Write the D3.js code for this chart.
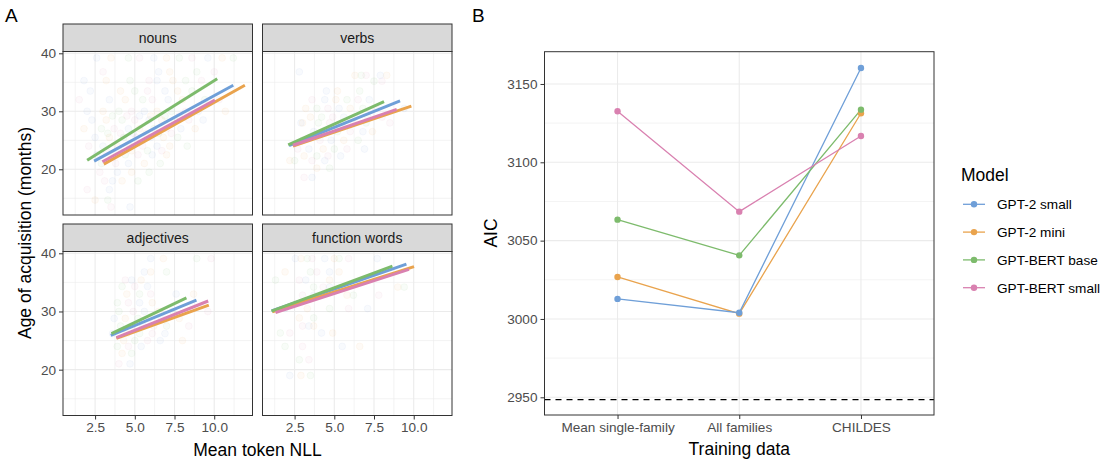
<!DOCTYPE html>
<html>
<head>
<meta charset="utf-8">
<script src="https://cdn.jsdelivr.net/npm/d3@7"></script>
<style>
  body { margin: 0; background: #fff; }
  svg text { font-family: "Liberation Sans", Arial, sans-serif; }
</style>
</head>
<body>
<svg id="chart" width="1112" height="468"></svg>
<script>
/* models and colours */
const models = ['GPT-2 small', 'GPT-2 mini', 'GPT-BERT base', 'GPT-BERT small']
const modelColors = ['#6f9fd8', '#e9a34d', '#7dbb6c', '#d981b0']

/* panel A facets */
const facets = ['nouns', 'verbs', 'adjectives', 'function words']
const nllTicks = [2.5, 5.0, 7.5, 10.0]
const aoaTicks = [20, 30, 40]

/* word points: [aoa, [nll, ...]] rows */
const nounPoints = [
  [39.2, [2.6, 3.5, 4.6, 5.3, 6.2, 7.0, 7.8, 8.6, 9.6, 10.5, 11.2]],
  [36.8, [3.0, 6.5, 7.2, 8.9, 10.0]],
  [35.3, [1.8, 3.2, 4.7, 5.9, 6.4, 7.4, 8.2, 9.2]],
  [33.5, [2.2, 4.1, 5.0, 5.8, 6.9, 7.7, 8.6]],
  [32.0, [1.5, 3.4, 4.4, 5.5, 6.1, 7.1, 8.0, 9.4, 10.3]],
  [30.0, [2.0, 3.0, 4.0, 4.8, 5.6, 6.4, 7.3, 8.2, 9.0, 10.7]],
  [29.2, [3.6, 4.5, 5.3, 6.0, 6.9, 7.8]],
  [28.5, [2.3, 3.2, 4.2, 5.0, 5.9, 6.7, 7.5, 8.4, 9.3]],
  [27.0, [1.8, 2.9, 3.7, 4.6, 5.3, 6.2, 7.0, 7.9, 8.8]],
  [26.2, [3.3, 4.1, 4.9, 5.7, 6.5, 7.3]],
  [25.5, [2.5, 3.4, 4.3, 5.1, 6.0, 6.8, 7.7]],
  [24.0, [2.1, 3.0, 3.9, 4.7, 5.5, 6.4, 7.2, 8.3]],
  [23.2, [3.2, 4.0, 4.8, 5.8, 6.7]],
  [22.5, [2.6, 3.5, 4.4, 5.2, 6.1, 7.0]],
  [21.0, [2.9, 3.8, 4.6, 5.6, 6.6]],
  [19.5, [2.8, 3.9, 4.8, 5.9]],
  [18.0, [3.1, 3.6, 4.2, 5.2]],
  [16.5, [2.0, 3.4]],
  [14.7, [2.5, 3.3]],
  [13.5, [3.5, 4.7]]
]
const verbPoints = [
  [36.8, [2.8]],
  [36.2, [6.3, 6.7, 7.0, 7.9, 8.3]],
  [35.2, [7.5, 8.0]],
  [33.5, [4.5, 5.2, 6.6]],
  [32.0, [3.6, 4.4, 5.1, 5.8, 6.5, 7.2]],
  [30.5, [3.2, 3.9, 4.6, 5.3, 6.0, 6.8, 7.6, 9.4]],
  [29.0, [3.5, 4.2, 4.9, 5.6, 6.3, 7.1, 8.0]],
  [28.0, [2.9, 3.0, 4.0, 4.7, 5.5, 6.2, 7.0, 8.5]],
  [26.5, [3.7, 4.5, 5.2, 6.0, 6.8, 7.4]],
  [25.0, [3.0, 4.1, 4.8, 5.6, 6.5]],
  [23.5, [2.7, 3.4, 4.3, 5.0, 5.8, 6.9]],
  [22.3, [3.1, 3.9, 4.6, 5.4]],
  [21.5, [2.2, 2.5, 3.6, 4.4]],
  [20.2, [3.9, 4.7]],
  [18.6, [3.1, 3.6]]
]
const adjPoints = [
  [39.1, [6.0, 6.8, 8.9, 9.8]],
  [36.8, [5.6, 6.0, 7.0]],
  [35.4, [4.4, 4.8, 5.4]],
  [34.3, [4.2, 5.0, 5.8]],
  [33.0, [4.5, 5.3, 6.0, 7.6, 8.7]],
  [31.5, [3.9, 4.6, 5.3, 6.1]],
  [30.0, [4.0, 4.9, 5.6, 6.5, 7.4, 9.6]],
  [28.8, [3.7, 4.4, 5.2, 5.9, 6.7, 7.8]],
  [27.5, [4.1, 4.8, 5.5, 6.2, 7.0, 8.4]],
  [26.2, [3.6, 4.5, 5.3, 6.1, 6.9]],
  [25.0, [4.3, 5.0, 5.8, 6.6, 8.0]],
  [24.0, [3.9, 4.6, 5.4]],
  [22.8, [4.2, 4.8]],
  [21.0, [4.0, 4.7]]
]
const funcPoints = [
  [39.1, [2.55, 2.9, 3.3, 3.6, 4.4, 5.0, 5.3, 5.9, 7.7]],
  [36.8, [1.9, 3.5, 3.9, 4.7, 5.3]],
  [35.4, [1.3, 2.8, 3.2, 4.7]],
  [34.2, [3.7, 4.3, 4.7, 9.0, 9.4]],
  [32.8, [3.0, 3.7, 5.8, 6.2, 7.8]],
  [30.5, [1.9, 3.3, 4.7, 5.9, 7.1]],
  [28.9, [2.8, 3.7]],
  [27.5, [3.0, 3.4, 3.7]],
  [26.3, [1.6, 2.2, 4.2, 4.9]],
  [24.0, [1.9, 3.0, 5.5, 6.6]],
  [21.7, [2.8, 3.4]],
  [19.0, [2.2, 2.9, 3.5]]
]
const facetPoints = [nounPoints, verbPoints, adjPoints, funcPoints]

/* fitted lines per facet, one per model: [nll start, nll end, aoa start, aoa end] */
const nounFits = [[2.44, 11.2, 21.4, 34.5], [3.05, 11.93, 20.9, 34.5], [2.0, 10.19, 21.55, 35.6], [2.96, 10.04, 21.3, 31.95]]
const verbFits = [[2.15, 9.14, 24.1, 31.8], [2.4, 9.85, 24.0, 30.9], [2.1, 8.13, 24.2, 31.66], [2.4, 8.93, 24.15, 30.34]]
const adjFits = [[3.49, 8.88, 25.9, 31.95], [3.84, 9.66, 25.4, 31.1], [3.53, 8.25, 26.2, 32.35], [3.84, 9.62, 25.5, 31.8]]
const funcFits = [[1.05, 9.54, 30.1, 38.15], [1.1, 10.02, 29.95, 37.7], [1.05, 8.66, 30.05, 37.8], [1.3, 9.7, 29.8, 37.25]]
const facetFits = [nounFits, verbFits, adjFits, funcFits]

/* panel B: AIC per training data */
const trainingData = ['Mean single-family', 'All families', 'CHILDES']
const aicGpt2Small = [3012.8, 3004.0, 3160.2]
const aicGpt2Mini = [3026.8, 3003.4, 3131.3]
const aicBertBase = [3063.4, 3040.6, 3133.6]
const aicBertSmall = [3132.6, 3068.5, 3116.8]
const aicSeries = [aicGpt2Small, aicGpt2Mini, aicBertBase, aicBertSmall]
const aicBaseline = 2948.5
const aicTicks = [2950, 3000, 3050, 3100, 3150]

/* styling */
const gridCol = '#ebebeb'
const borderCol = '#333333'
const tickCol = '#4d4d4d'
const tickSize = 13.6
const titleSize = 17.5
const fontFam = '"Liberation Sans", Arial, sans-serif'

const svg = d3.select('#chart')

/* fn: common axis styling */
function styleAxis(a) {
  a.select('.domain').remove()
  a.selectAll('.tick line').attr('stroke', borderCol)
  a.selectAll('.tick text').attr('fill', tickCol).attr('font-size', tickSize)
    .style('font-family', fontFam)
}

/* ---------- panel A ---------- */
const colX = [[63, 252.5], [262.5, 452]]
const rowY = [[51.5, 215], [251.5, 415.5]]
const stripH = 27.5

const xA = d3.scaleLinear().domain([0.48, 12.41])
const yA = d3.scaleLinear().domain([12.12, 40.31])

facets.forEach(function (name, i) {
  const col = i % 2
  const row = Math.floor(i / 2)
  const x = xA.copy().range(colX[col])
  const y = yA.copy().range([rowY[row][1], rowY[row][0]])
  const g = svg.append('g').attr('class', 'facet')
  const [x0, x1] = colX[col]
  const [y0, y1] = rowY[row]

  /* minor + major grid */
  const xMinor = [1.25, 3.75, 6.25, 8.75, 11.25]
  const yMinor = [15, 25, 35]
  g.selectAll('.vminor').data(xMinor).join('line')
    .attr('x1', (d) => x(d)).attr('x2', (d) => x(d)).attr('y1', y0).attr('y2', y1)
    .attr('stroke', gridCol).attr('stroke-width', 0.6)
  g.selectAll('.hminor').data(yMinor).join('line')
    .attr('y1', (d) => y(d)).attr('y2', (d) => y(d)).attr('x1', x0).attr('x2', x1)
    .attr('stroke', gridCol).attr('stroke-width', 0.6)
  g.selectAll('.vmajor').data(nllTicks).join('line')
    .attr('x1', (d) => x(d)).attr('x2', (d) => x(d)).attr('y1', y0).attr('y2', y1)
    .attr('stroke', gridCol).attr('stroke-width', 1.1)
  g.selectAll('.hmajor').data(aoaTicks).join('line')
    .attr('y1', (d) => y(d)).attr('y2', (d) => y(d)).attr('x1', x0).attr('x2', x1)
    .attr('stroke', gridCol).attr('stroke-width', 1.1)

  /* faint word points, colour cycles through the four models */
  const pts = []
  facetPoints[i].forEach(function (r) {
    r[1].forEach(function (v) {
      pts.push({ aoa: r[0], nll: v, m: pts.length % 4 })
    })
  })
  g.selectAll('circle').data(pts).join('circle')
    .attr('cx', (d) => x(d.nll)).attr('cy', (d) => y(d.aoa)).attr('r', 3.4)
    .attr('fill', (d) => modelColors[d.m]).attr('fill-opacity', 0.05)
    .attr('stroke', (d) => modelColors[d.m]).attr('stroke-opacity', 0.06)

  /* fitted lines */
  g.selectAll('.fit').data(facetFits[i]).join('line')
    .attr('x1', (d) => x(d[0])).attr('x2', (d) => x(d[1]))
    .attr('y1', (d) => y(d[2])).attr('y2', (d) => y(d[3]))
    .attr('stroke', (d, k) => modelColors[k]).attr('stroke-width', 3)

  /* panel border */
  g.append('rect').attr('x', x0).attr('y', y0).attr('width', x1 - x0).attr('height', y1 - y0)
    .attr('fill', 'none').attr('stroke', borderCol).attr('stroke-width', 1)

  /* strip */
  g.append('rect').attr('x', x0).attr('y', y0 - stripH).attr('width', x1 - x0).attr('height', stripH)
    .attr('fill', '#d9d9d9').attr('stroke', borderCol).attr('stroke-width', 1)
  g.append('text').attr('x', (x0 + x1) / 2).attr('y', y0 - stripH / 2 + 5)
    .attr('text-anchor', 'middle').attr('font-size', 14).attr('fill', '#1a1a1a').text(name)

  /* y axis on left column */
  if (col === 0) {
    g.append('g').attr('transform', `translate(${x0},0)`)
      .call(d3.axisLeft(y).tickValues(aoaTicks).tickSize(4).tickPadding(3).tickFormat(d3.format('d')))
      .call(styleAxis)
  }
  /* x axis on bottom row */
  if (row === 1) {
    g.append('g').attr('transform', `translate(0,${y1})`)
      .call(d3.axisBottom(x).tickValues(nllTicks).tickSize(4).tickPadding(3).tickFormat(d3.format('.1f')))
      .call(styleAxis)
  }
})

/* panel A titles */
svg.append('text').attr('x', 257.5).attr('y', 455.5).attr('text-anchor', 'middle')
  .attr('font-size', titleSize).text('Mean token NLL')
svg.append('text').attr('transform', 'translate(31,233) rotate(-90)').attr('text-anchor', 'middle')
  .attr('font-size', titleSize).text('Age of acquisition (months)')
svg.append('text').attr('x', 5).attr('y', 21.5).attr('font-size', 19).text('A')

/* ---------- panel B ---------- */
const bx0 = 544.5, bx1 = 934, by0 = 51.7, by1 = 415
const xB = d3.scalePoint().domain(trainingData).range([bx0, bx1]).padding(0.6)
const yB = d3.scaleLinear().domain([2938.7, 3170.6]).range([by1, by0])
const gB = svg.append('g')

gB.selectAll('.hminor').data([2975, 3025, 3075, 3125]).join('line')
  .attr('x1', bx0).attr('x2', bx1).attr('y1', (d) => yB(d)).attr('y2', (d) => yB(d))
  .attr('stroke', gridCol).attr('stroke-width', 0.6)
gB.selectAll('.hmajor').data(aicTicks).join('line')
  .attr('x1', bx0).attr('x2', bx1).attr('y1', (d) => yB(d)).attr('y2', (d) => yB(d))
  .attr('stroke', gridCol).attr('stroke-width', 1.1)
gB.selectAll('.vmajor').data(trainingData).join('line')
  .attr('x1', (d) => xB(d)).attr('x2', (d) => xB(d)).attr('y1', by0).attr('y2', by1)
  .attr('stroke', gridCol).attr('stroke-width', 1.1)

/* baseline */
gB.append('line').attr('x1', bx0).attr('x2', bx1)
  .attr('y1', yB(aicBaseline)).attr('y2', yB(aicBaseline))
  .attr('stroke', '#000').attr('stroke-width', 1.4).attr('stroke-dasharray', '6,5')

/* lines then points; draw order so blue/green sit over orange */
const drawOrder = [1, 0, 2, 3]
const aicLine = d3.line().x((d, j) => xB(trainingData[j])).y((d) => yB(d))
gB.selectAll('.aic-line').data(drawOrder).join('path')
  .attr('d', (k) => aicLine(aicSeries[k]))
  .attr('fill', 'none').attr('stroke', (k) => modelColors[k]).attr('stroke-width', 1.3)
drawOrder.forEach(function (k) {
  gB.selectAll('.pt' + k).data(aicSeries[k]).join('circle')
    .attr('cx', (d, j) => xB(trainingData[j])).attr('cy', (d) => yB(d)).attr('r', 3.2)
    .attr('fill', modelColors[k])
})

gB.append('rect').attr('x', bx0).attr('y', by0).attr('width', bx1 - bx0).attr('height', by1 - by0)
  .attr('fill', 'none').attr('stroke', borderCol).attr('stroke-width', 1)

gB.append('g').attr('transform', `translate(${bx0},0)`)
  .call(d3.axisLeft(yB).tickValues(aicTicks).tickSize(4).tickPadding(3).tickFormat(d3.format('d')))
  .call(styleAxis)
gB.append('g').attr('transform', `translate(0,${by1})`)
  .call(d3.axisBottom(xB).tickSize(4).tickPadding(3))
  .call(styleAxis)

svg.append('text').attr('x', 739.3).attr('y', 454.5).attr('text-anchor', 'middle')
  .attr('font-size', titleSize).text('Training data')
svg.append('text').attr('transform', 'translate(497,233) rotate(-90)').attr('text-anchor', 'middle')
  .attr('font-size', titleSize).text('AIC')
svg.append('text').attr('x', 472).attr('y', 21.5).attr('font-size', 19).text('B')

/* legend */
const leg = svg.append('g')
leg.append('text').attr('x', 961).attr('y', 181).attr('font-size', titleSize).text('Model')
const legRows = leg.selectAll('.lr').data(models).join('g')
  .attr('transform', (d, i) => `translate(963,${204.3 + i * 27.8})`)
legRows.append('line').attr('x1', 0).attr('x2', 22).attr('y1', 0).attr('y2', 0)
  .attr('stroke', (d, i) => modelColors[i]).attr('stroke-width', 1.3)
legRows.append('circle').attr('cx', 11).attr('cy', 0).attr('r', 3.2)
  .attr('fill', (d, i) => modelColors[i])
legRows.append('text').attr('x', 34).attr('y', 4.8).attr('font-size', tickSize).text((d) => d)
</script>
</body>
</html>
